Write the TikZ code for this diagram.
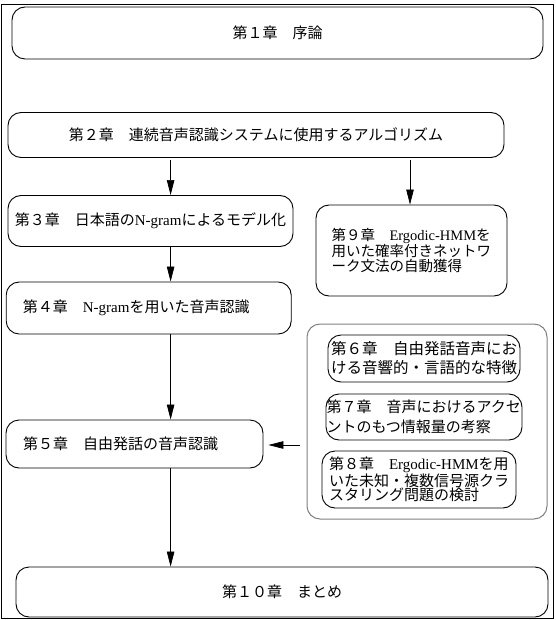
\documentclass[tikz,border=0pt]{standalone}
\usepackage{fontspec}
\setmainfont{Noto Sans CJK JP}
\newfontfamily\lat{Liberation Serif}
\usetikzlibrary{arrows.meta}
\tikzset{
	chap/.style={draw, rounded corners=13pt, line width=0.9pt, inner sep=0pt, font=\fontsize{15}{15.5}\selectfont},
	chapleft/.style={chap, align=left, text width=#1},
	grpbox/.style={draw=black!50, rounded corners=13pt, line width=1pt},
	arr/.style={-{Triangle[length=15pt,width=7.5pt]}, line width=0.7pt},
}

\begin{document}
\begin{tikzpicture}[x=1pt, y=-1pt]
			%%%%% START %%%%%
			
			\useasboundingbox (0,0) rectangle (555,620);
			\draw[line width=0.8pt] (1,4) rectangle (553.5,618);
			
			\node[chap, minimum width=531pt, minimum height=52pt] (c1) at (277.5,33) {第１章　序論};
			\node[chap, minimum width=496pt, minimum height=45pt] (c2) at (256,135) {第２章　連続音声認識システムに使用するアルゴリズム};
			
			\node[chap, minimum width=285pt, minimum height=51pt] (c3) at (150.5,221) {第３章　日本語の{\lat N-gram}によるモデル化};
			\node[chapleft=251.6pt, inner xsep=16.7pt, minimum height=52pt] (c4) at (148.7,308) {第４章　{\lat N-gram}を用いた音声認識};
			\node[chapleft=223pt, inner xsep=17pt, minimum height=48pt] (c5) at (134.5,444) {第５章　自由発話の音声認識};
			
			\node[chapleft=160pt, inner xsep=15.5pt, minimum height=91pt, font=\fontsize{14.5}{15.5}\selectfont] (c9) at (411.5,250.5) {第９章　{\lat Ergodic-HMM}を\\用いた確率付きネットワ\\ーク文法の自動獲得};
			
			% group of chapters 6-8
			\node[grpbox, minimum width=240pt, minimum height=195pt] (grp) at (427,421.5) {};
			\node[chapleft=186pt, inner xsep=3pt, minimum height=47pt, font=\fontsize{15.5}{19}\selectfont] (c6) at (424,358.5) {第６章　自由発話音声にお\\ける音響的・言語的な特徴};
			\node[chapleft=195pt, inner xsep=0.5pt, minimum height=46pt, font=\fontsize{15}{20}\selectfont] (c7) at (424,417) {第７章　音声におけるアクセ\\ントのもつ情報量の考察};
			\node[chapleft=180pt, inner xsep=7pt, minimum height=57pt, font=\fontsize{15}{14.5}\selectfont] (c8) at (419,479.5) {第８章　{\lat Ergodic-HMM}を用\\いた未知・複数信号源クラ\\スタリング問題の検討};
			
			\node[chap, minimum width=532pt, minimum height=50pt] (c10) at (282,592) {第１０章　まとめ};
			
			\coordinate (colA) at (170.6,0);
			\coordinate (colB) at (410,0);
			\coordinate (rowE) at (0,445);
			
			\draw[arr, shorten <=2.5pt] (c2.south -| colA) -- (c3.north -| colA);
			\draw[arr, shorten <=2.5pt] (c2.south -| colB) -- (c9.north -| colB);
			\draw[arr] (c3.south -| colA) -- (c4.north -| colA);
			\draw[arr] (c4.south -| colA) -- (c5.north -| colA);
			\draw[arr] (c5.south -| colA) -- (c10.north -| colA);
			\draw[arr, shorten <=7pt, shorten >=5pt] (grp.west |- rowE) -- (c5.east |- rowE);
			
			%%%%% END %%%%%
\end{tikzpicture}
\end{document}
